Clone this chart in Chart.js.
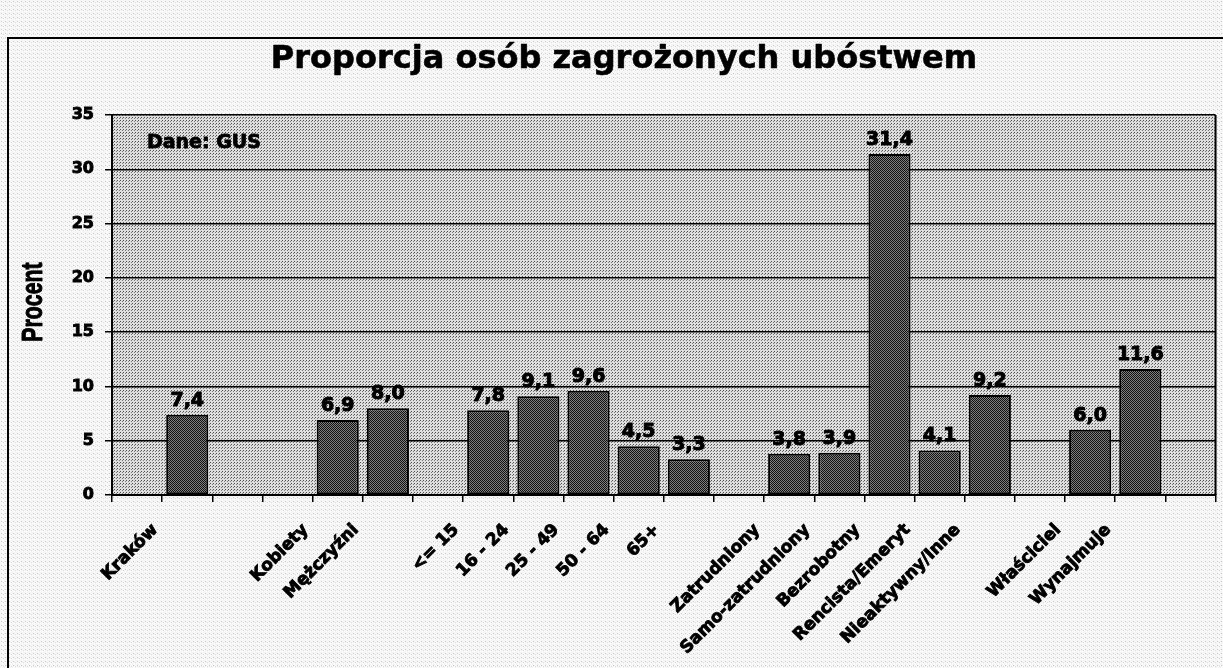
<!DOCTYPE html>
<html>
<head>
<meta charset="utf-8">
<script src="https://cdn.jsdelivr.net/npm/chart.js@4/dist/chart.umd.min.js"></script>
<style>
  html, body { margin: 0; padding: 0; background: #f1f1f1; }
  #wrap { width: 1223px; height: 668px; position: relative; }
</style>
</head>
<body>
<div id="wrap"><canvas id="chart"></canvas></div>
<script>
// categories (empty strings are the gaps between groups)
const categories = ['', 'Kraków', '', '', 'Kobiety', 'Mężczyźni', '', '<= 15', '16 - 24', '25 - 49', '50 - 64', '65+', '',
  'Zatrudniony', 'Samo-zatrudniony', 'Bezrobotny', 'Rencista/Emeryt', 'Nieaktywny/Inne', '', 'Właściciel', 'Wynajmuje', ''];
const values = [null, 7.4, null, null, 6.9, 8.0, null, 7.8, 9.1, 9.6, 4.5, 3.3, null,
  3.8, 3.9, 31.4, 4.1, 9.2, null, 6.0, 11.6, null];
const yTicks = [0, 5, 10, 15, 20, 25, 30, 35];

const titleText = 'Proporcja osób zagrożonych ubóstwem';
const sourceText = 'Dane: GUS';
const yTitle = 'Procent';

const FONT = "'DejaVu Sans', 'Liberation Sans', sans-serif";

// small stipple patterns to imitate the printed halftone
function makePattern(size, base, dots) {
  const c = document.createElement('canvas');
  c.width = size; c.height = size;
  const g = c.getContext('2d');
  g.fillStyle = base;
  g.fillRect(0, 0, size, size);
  dots.forEach(d => { g.fillStyle = d[2]; g.fillRect(d[0], d[1], 1, 1); });
  return g.createPattern(c, 'repeat');
}
const ctx = document.getElementById('chart').getContext('2d');
const plotBg = makePattern(3, '#dedede', [[0, 0, '#505050'], [2, 1, '#7a7a7a']]);
const barFill = makePattern(2, '#808080', [[0, 0, '#101010'], [1, 1, '#101010']]);
const pageBg = makePattern(4, '#f7f7f7', [[1, 1, '#c8c8c8'], [3, 2, '#dedede']]);

// draw heavy text (fill plus a thin stroke, the original uses a black face)
function heavyText(c, txt, x, y, w) {
  c.lineWidth = w;
  c.strokeStyle = '#000';
  c.lineJoin = 'round';
  c.strokeText(txt, x, y);
  c.fillText(txt, x, y);
}

const decor = {
  id: 'decor',
  beforeDraw(chart) {
    const c = chart.ctx, a = chart.chartArea;
    c.save();
    c.fillStyle = pageBg;
    c.fillRect(0, 0, chart.width, chart.height);
    c.fillStyle = plotBg;
    c.fillRect(a.left, a.top, a.right - a.left, a.bottom - a.top);
    // outer frame
    c.strokeStyle = '#000';
    c.lineWidth = 2;
    c.beginPath();
    c.moveTo(8, chart.height + 2);
    c.lineTo(8, 38);
    c.lineTo(chart.width + 2, 38);
    c.stroke();
    // title
    c.fillStyle = '#000';
    c.font = 'bold 32px ' + FONT;
    c.textAlign = 'center';
    c.textBaseline = 'middle';
    heavyText(c, titleText, 624, 60, 0.6);
    // y axis title, condensed like a narrow face
    c.save();
    c.translate(42, 302);
    c.rotate(-Math.PI / 2);
    c.scale(0.71, 1);
    c.font = "bold 30px 'Liberation Sans', sans-serif";
    c.textAlign = 'center';
    c.textBaseline = 'alphabetic';
    heavyText(c, yTitle, 0, 0, 1);
    c.restore();
    c.restore();
  },
  afterDatasetsDraw(chart) {
    const c = chart.ctx, a = chart.chartArea;
    c.save();
    c.fillStyle = '#000';
    c.font = 'bold 19px ' + FONT;
    c.textAlign = 'center';
    c.textBaseline = 'alphabetic';
    chart.getDatasetMeta(0).data.forEach((bar, i) => {
      const v = values[i];
      if (v === null) return;
      heavyText(c, v.toFixed(1).replace('.', ','), bar.x, bar.y - 9, 1);
    });
    c.font = 'bold 19px ' + FONT;
    c.textAlign = 'left';
    c.textBaseline = 'middle';
    heavyText(c, sourceText, a.left + 35, a.top + 28, 0.8);
    // right border of plot
    c.strokeStyle = '#000';
    c.lineWidth = 2;
    c.beginPath();
    c.moveTo(a.right, a.top);
    c.lineTo(a.right, a.bottom);
    c.stroke();
    c.restore();
  }
};

new Chart(ctx, {
  type: 'bar',
  data: {
    labels: categories,
    datasets: [{
      data: values,
      backgroundColor: barFill,
      borderColor: '#000',
      borderWidth: 2,
      borderSkipped: false,
      categoryPercentage: 1,
      barPercentage: 0.84
    }]
  },
  options: {
    responsive: true,
    maintainAspectRatio: false,
    animation: false,
    layout: { padding: { left: 0, right: 4, top: 115, bottom: 0 } },
    plugins: {
      legend: { display: false },
      tooltip: { enabled: false },
      title: { display: false }
    },
    scales: {
      x: {
        grid: { display: true, drawOnChartArea: false, drawTicks: true, tickLength: 7, color: '#000', lineWidth: 1.5 },
        border: { display: true, color: '#000', width: 2 },
        ticks: {
          autoSkip: false,
          minRotation: 45,
          maxRotation: 45,
          labelOffset: -32,
          padding: 18,
          color: '#000',
          textStrokeColor: '#000',
          textStrokeWidth: 0.9,
          font: { family: FONT, size: 17, weight: 'bold' }
        },
        afterFit(scale) { scale.height = 173; }
      },
      y: {
        min: 0,
        max: 35,
        afterBuildTicks(scale) { scale.ticks = yTicks.map(v => ({ value: v })); },
        grid: { color: '#000', lineWidth: 1.5, drawTicks: true, tickLength: 7 },
        border: { display: true, color: '#000', width: 2 },
        ticks: {
          padding: 11,
          color: '#000',
          textStrokeColor: '#000',
          textStrokeWidth: 0.9,
          font: { family: FONT, size: 16, weight: 'bold' }
        },
        afterFit(scale) { scale.width = 112; }
      }
    }
  },
  plugins: [decor]
});
</script>
</body>
</html>
